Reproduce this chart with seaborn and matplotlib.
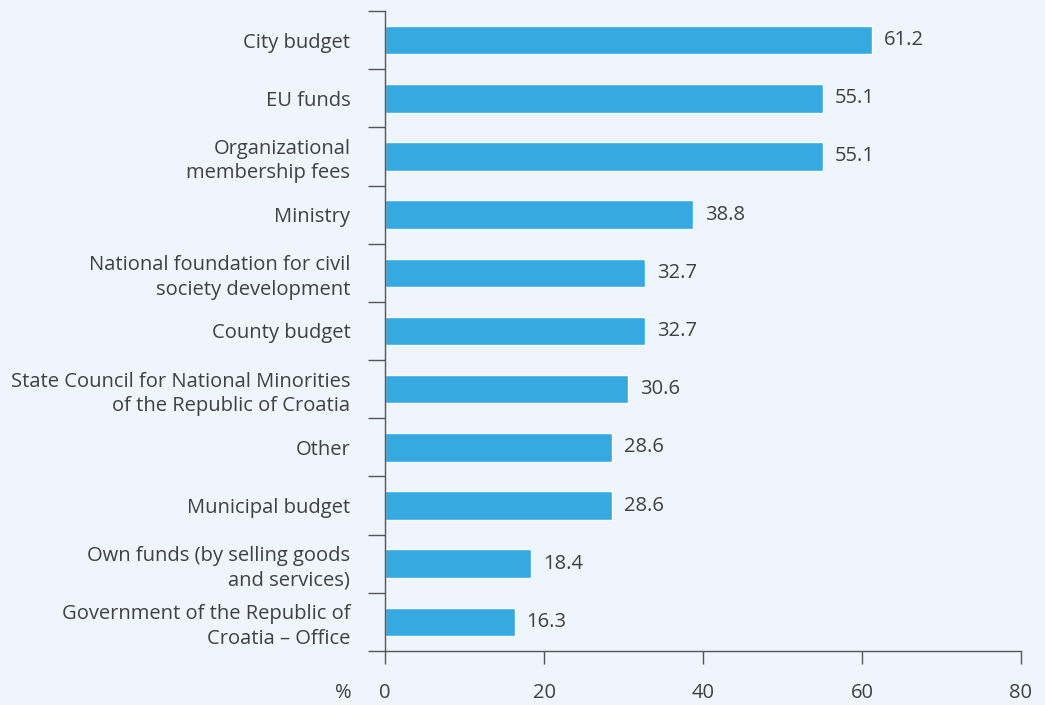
import numpy as np
import matplotlib.pyplot as plt
import seaborn as sns
import pandas as pd

### data
categories = ["City budget", "EU funds", "Organizational\nmembership fees", "Ministry",
              "National foundation for civil\nsociety development", "County budget",
              "State Council for National Minorities\nof the Republic of Croatia", "Other",
              "Municipal budget", "Own funds (by selling goods\nand services)",
              "Government of the Republic of\nCroatia \u2013 Office"]
values = [61.2, 55.1, 55.1, 38.8, 32.7, 32.7, 30.6, 28.6, 28.6, 18.4, 16.3]
xticks = [0, 20, 40, 60, 80]

df = pd.DataFrame({"source": categories, "pct": values})

bg = "#eef5fc"
txt = "#404040"
fs = 14.5

sns.set_style("white")
plt.rcParams["font.family"] = ["Open Sans", "DejaVu Sans"]

fig = plt.figure(figsize=(10.45, 7.05), dpi=100, facecolor=bg)
ax = fig.add_axes([385/1045, 54/705, 636/1045, 640/705])
ax.set_facecolor(bg)
sns.barplot(data=df, x="pct", y="source", color="#36a9e1", width=0.49,
            saturation=1, ax=ax)

for i, v in enumerate(values):
    ax.text(v + 1.5, i, "%.1f" % v, va="center", ha="left", fontsize=fs, color=txt)

ax.set_xlim(0, 80)
ax.set_ylim(10.5, -0.5)
ax.set_xticks(xticks)
ax.set_xticklabels([str(x) for x in xticks], fontsize=fs, color=txt)
ax.set_yticks(np.arange(len(categories) + 1) - 0.5, minor=True)
ax.set_yticks(np.arange(len(categories)))
ax.set_yticklabels(categories, fontsize=fs, color=txt, linespacing=1.3)
ax.tick_params(axis="y", which="both", left=True)
ax.tick_params(axis="y", which="major", length=0, pad=25)
ax.tick_params(axis="y", which="minor", length=12, color="#555555", width=1)
ax.tick_params(axis="x", bottom=True, length=9, color="#555555", width=1, pad=14)
ax.set_xlabel("")
ax.set_ylabel("")
ax.text(-5.2, -0.066, "%", transform=ax.get_xaxis_transform(), ha="center", va="center",
        fontsize=fs, color=txt)

sns.despine(ax=ax, top=True, right=True)
for s in ["left", "bottom"]:
    ax.spines[s].set_color("#555555")
    ax.spines[s].set_linewidth(1)

plt.savefig("out.png", dpi=100, facecolor=bg)
